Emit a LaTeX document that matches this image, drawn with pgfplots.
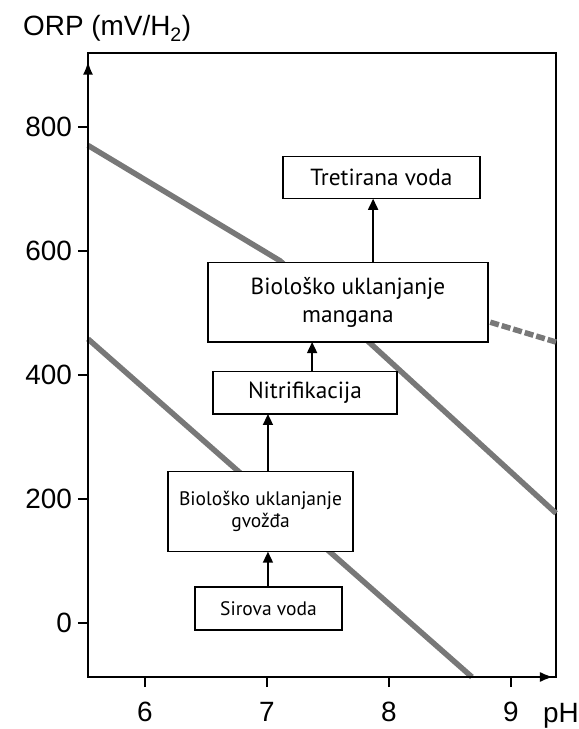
\documentclass[border=0pt]{standalone}
\usepackage{pgfplots}
\pgfplotsset{compat=1.18}
\usepackage{fontspec}
\setmainfont{Liberation Sans}
\newfontfamily\boxfont{PT Sans}
\usetikzlibrary{arrows.meta}
\definecolor{linegray}{gray}{0.47}
\begin{document}
\begin{tikzpicture}
\path[use as bounding box] (-88bp,-52bp) rectangle (491bp,677bp);
\begin{axis}[
  at={(0,0)}, anchor=south west,
  scale only axis, width=468bp, height=624bp,
  xmin=5.533, xmax=9.369, ymin=-87, ymax=919,
  axis line style={line width=1.4bp},
  xtick={6,7,8,9}, ytick={0,200,400,600,800},
  xtick pos=bottom, ytick pos=left,
  tick align=outside, major tick length=10bp,
  tick style={line width=1.4bp, black},
  ticklabel style={font=\fontsize{28}{32}\selectfont, inner sep=0pt},
  /pgf/number format/assume math mode=true,
  xticklabel style={anchor=north, yshift=-15bp},
  yticklabel style={anchor=east, xshift=-6bp},
  clip=false,
]
% boundary lines
\addplot[no marks, line width=5.5bp, color=linegray] coordinates {(5.533,770) (7.107,584) (9.369,177)};
\addplot[no marks, line width=5.5bp, color=linegray] coordinates {(5.533,458) (8.68,-87)};
\addplot[no marks, line width=5.5bp, color=linegray, dash pattern=on 9bp off 3bp] coordinates {(8.83,485) (9.369,453)};
% axis arrows
\draw[line width=1.4bp, -{Latex[length=13bp,width=10bp]}] (axis cs:5.533,-87) -- (axis cs:5.533,905);
\draw[line width=1.4bp, -{Latex[length=13bp,width=10bp]}] (axis cs:5.533,-87) -- (axis cs:9.344,-87);
% boxes
\draw[line width=1.3bp, fill=white] (axis cs:6.41,-11) rectangle (axis cs:7.615,58)
  node[midway, font=\boxfont\fontsize{19.6}{23}\selectfont] {Sirova voda};
\draw[line width=1.3bp, fill=white] (axis cs:6.189,115) rectangle (axis cs:7.705,244)
  node[midway, align=center, font=\boxfont\fontsize{19.6}{22}\selectfont] {Biološko uklanjanje\\gvožđa};
\draw[line width=1.3bp, fill=white] (axis cs:6.557,337) rectangle (axis cs:8.066,405)
  node[midway, font=\boxfont\fontsize{23.4}{28}\selectfont] {Nitrifikacija};
\draw[line width=1.3bp, fill=white] (axis cs:6.516,453) rectangle (axis cs:8.811,581)
  node[midway, align=center, font=\boxfont\fontsize{23.4}{28}\selectfont] {Biološko uklanjanje\\mangana};
\draw[line width=1.3bp, fill=white] (axis cs:7.131,684) rectangle (axis cs:8.746,752)
  node[midway, font=\boxfont\fontsize{23.4}{28}\selectfont] {Tretirana voda};
% arrows between boxes
\draw[line width=1.6bp, -{Triangle[length=11bp,width=10bp]}] (axis cs:7.008,58) -- (axis cs:7.008,115);
\draw[line width=1.6bp, -{Triangle[length=11bp,width=10bp]}] (axis cs:7.008,244) -- (axis cs:7.008,337);
\draw[line width=1.6bp, -{Triangle[length=11bp,width=10bp]}] (axis cs:7.37,405) -- (axis cs:7.37,453);
\draw[line width=1.6bp, -{Triangle[length=11bp,width=10bp]}] (axis cs:7.87,581) -- (axis cs:7.87,684);
\end{axis}
\node[anchor=base west, inner sep=0pt, font=\fontsize{28}{32}\selectfont] at (-65bp,641bp) {ORP (mV/H\textsubscript{2})};
\node[anchor=base east, inner sep=0pt, font=\fontsize{28}{32}\selectfont] at (491bp,-45bp) {pH};
\end{tikzpicture}
\end{document}
